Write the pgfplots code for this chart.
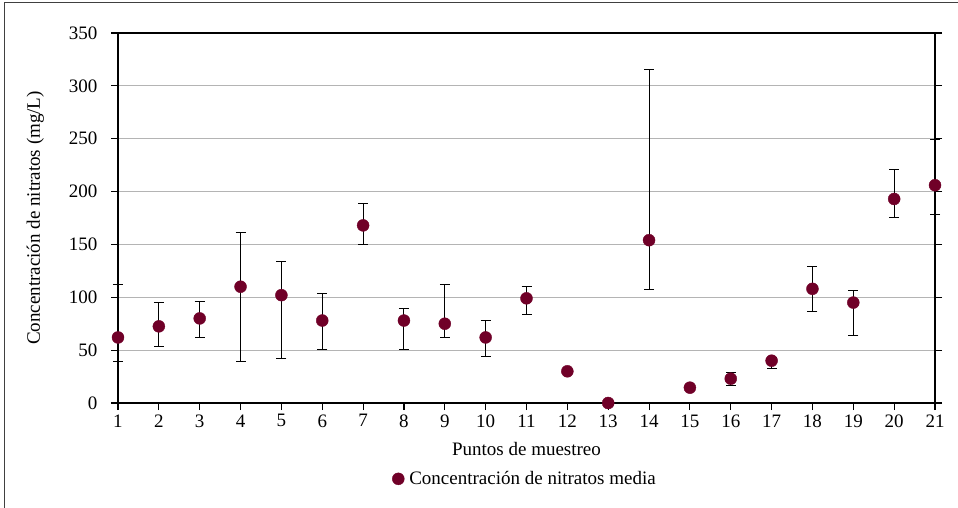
\documentclass[border=0pt]{standalone}
\usepackage{fontspec}
\setmainfont{Liberation Serif}
\usepackage{pgfplots}
\pgfplotsset{compat=1.18}
\usepackage{pgfplotstable}
\definecolor{maroon}{RGB}{112,0,40}
\definecolor{gridgray}{RGB}{180,180,180}
\pgfplotstableread{
x y ep em
1 62 50 23
2 72.5 22.5 19.5
3 80 16 18
4 110 51 71
5 102 32 60
6 78 26 27
7 168 21 18.5
8 78 11 27
9 75 37 13
10 62 16 18
11 99 11 15
12 30 0 0
13 0 0 0
14 154 161 47
15 14.5 0 0
16 23 6 6
17 40 3 7
18 108 21 21
19 95 11 31
20 193 28 18
21 206 43 28
}\datatable
\begin{document}
\begin{tikzpicture}[font=\fontsize{19}{22}\selectfont]
\begin{axis}[
  scale only axis,
  width=817pt, height=370pt,
  at={(0pt,0pt)}, anchor=south west,
  xmin=1, xmax=21, ymin=0, ymax=350,
  xtick={1,...,21},
  ytick={0,50,...,350},
  xtick pos=bottom,
  ytick pos=both,
  tick align=outside,
  major tick length=7pt,
  tick style={black, line width=1.1pt},
  axis line style={black, line width=1.1pt},
  ymajorgrids,
  grid style={gridgray, line width=1pt},
  /pgf/number format/assume math mode=true,
  every tick label/.append style={font=\fontsize{19}{22}\selectfont},
  label style={font=\fontsize{19}{22}\selectfont},
  xlabel={Puntos de muestreo},
  ylabel={Concentración de nitratos (mg/L)},
  xticklabel style={yshift=-1pt},
  yticklabel style={xshift=-10pt},
  xlabel style={yshift=-8pt},
  ylabel style={yshift=18pt},
  clip=false,
  legend style={at={(0.5,-0.205)}, anchor=center, draw=none, fill=none,
    font=\fontsize{19}{22}\selectfont,
    nodes={inner xsep=5pt}},
  legend image code/.code={\draw[mark repeat=2,mark phase=2] plot coordinates {(0cm,0cm) (0.3cm,0cm) (0.6cm,0cm)};},
  legend cell align=left,
]
\addplot[only marks, mark=*, mark size=6pt, color=maroon,
  error bars/.cd, y dir=both, y explicit,
  error bar style={black, line width=1pt},
  error mark options={black, rotate=90, mark size=5pt, line width=1pt}]
  table[x=x, y=y, y error plus=ep, y error minus=em] {\datatable};
\addlegendentry{Concentración de nitratos media}
\end{axis}
\draw[black!75, line width=1pt] (-113pt,-115pt) rectangle (850pt,400pt);
\pgfresetboundingbox
\useasboundingbox (-118pt,-105pt) rectangle (840pt,403pt);
\end{tikzpicture}
\end{document}
